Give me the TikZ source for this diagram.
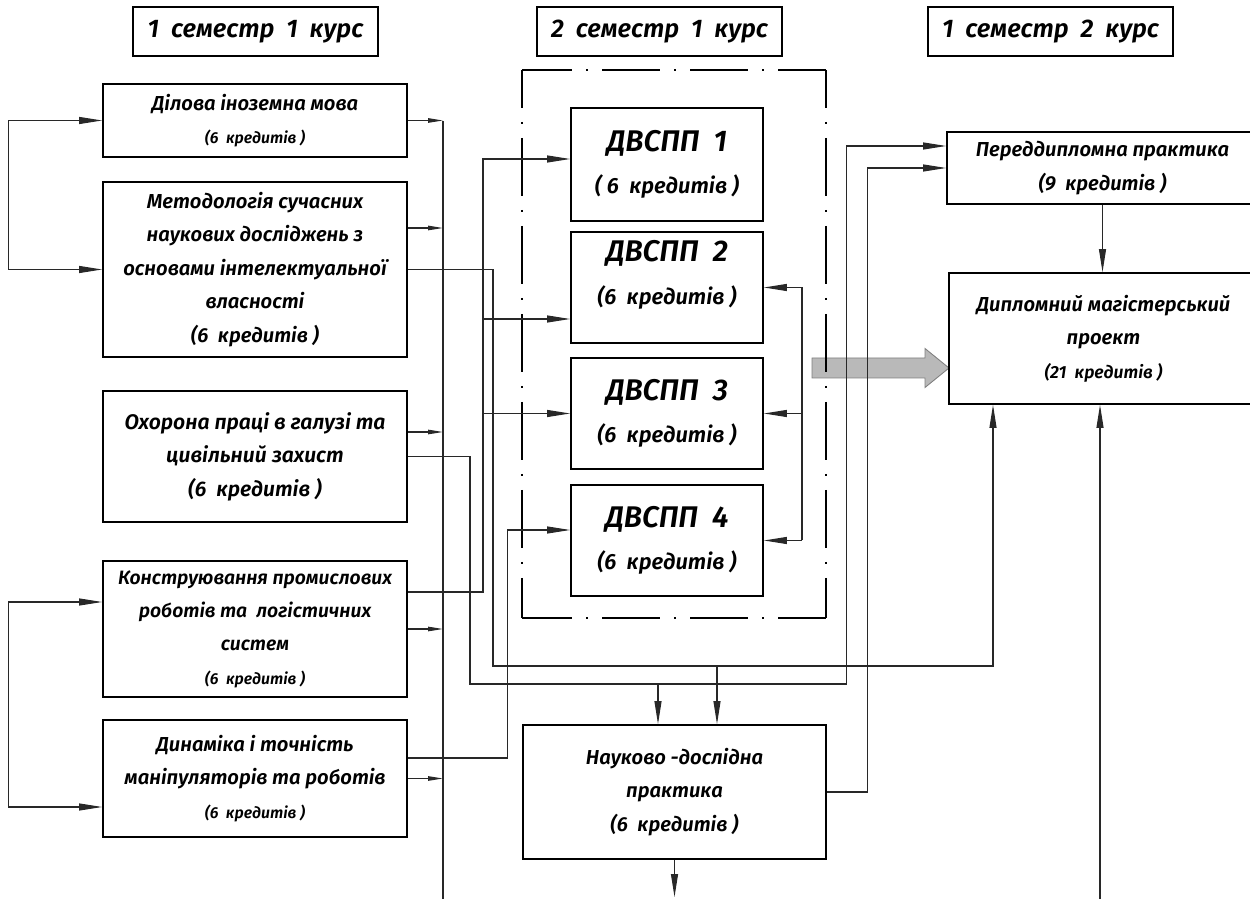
\documentclass[tikz,border=0pt]{standalone}
\usepackage{fontspec}
\setmainfont{Fira Sans}[BoldFont={* SemiBold}, BoldItalicFont={* SemiBold Italic}]
\usetikzlibrary{arrows.meta}
\definecolor{linkgray}{RGB}{40,40,40}
\definecolor{bargray}{RGB}{185,185,185}
\newcommand{\cred}[1]{{\fontsize{9}{14}\selectfont(#1~~кредитів )}}

\begin{document}
\begin{tikzpicture}[
  >={Triangle[length=4.6mm,width=1.4mm]},
  course/.style={draw, line width=1pt, minimum width=4.9cm, minimum height=0.98cm,
    inner sep=0pt, font=\fontsize{14.5}{18}\selectfont\bfseries\itshape},
  subj/.style={draw, line width=1pt, align=center, inner sep=0pt,
    font=\fontsize{11.5}{19}\selectfont\bfseries\itshape},
  leftbox/.style={subj, minimum width=6.08cm},
  dvspp/.style={subj, minimum width=3.84cm, minimum height=2.22cm,
    font=\fontsize{17}{24}\selectfont\bfseries\itshape},
  link/.style={linkgray, line width=0.6pt},
  bustip/.style={-{Triangle[length=3mm,width=0.9mm]}},
  dvframe/.style={line width=1.1pt, dash pattern=on 11.6mm off 2.8mm on 0.4mm off 2.8mm},
]
  \clip (0,0) rectangle (25,17.98);
  %--- semesters ---------------------------------------------------------------
  \node[course] (h1) at (5.11,17.35) {1~~семестр~~1~~курс};
  \node[course] (h2) at (13.19,17.35) {2~~семестр~~1~~курс};
  \node[course] (h3) at (21.01,17.35) {1~~семестр~~2~~курс};
  %--- first semester ------------------------------------------------------------
  \node[leftbox, minimum height=1.46cm] (b1) at (5.10,15.57)
    {Ділова іноземна мова\\\cred{6}};
  \node[leftbox, minimum height=3.50cm] (b2) at (5.10,12.59)
    {Методологія сучасних\\наукових досліджень з\\основами інтелектуальної\\власності\\(6~~кредитів )};
  \node[leftbox, minimum height=2.62cm, font=\fontsize{12}{19}\selectfont\bfseries\itshape] (b3)
    at (5.10,8.85) {Охорона праці в галузі та\\цивільний захист\\(6~~кредитів )};
  \node[leftbox, minimum height=2.72cm, font=\fontsize{11}{19}\selectfont\bfseries\itshape] (b4)
    at (5.10,5.40) {Конструювання промислових\\роботів та~~логістичних\\систем\\\cred{6}};
  \node[leftbox, minimum height=2.34cm] (b5) at (5.10,2.41)
    {Динаміка і точність\\маніпуляторів та роботів\\\cred{6}};
  %--- second semester -----------------------------------------------------------
  \fill[bargray] (16.24,10.42) -- (18.50,10.42) -- (18.50,10.23) -- (18.98,10.62)
    -- (18.50,11.01) -- (18.50,10.82) -- (16.24,10.82) -- cycle;
  \draw[gray, line width=0.5pt] (16.24,10.42) -- (18.50,10.42) -- (18.50,10.23) -- (18.98,10.62)
    -- (18.50,11.01) -- (18.50,10.82) -- (16.24,10.82) -- cycle;
  % elective frame, each side from its own corner
  \coordinate (frtl) at (10.44,16.58);
  \coordinate (frtr) at (16.52,16.58);
  \coordinate (frbl) at (10.44,5.62);
  \coordinate (frbr) at (16.52,5.62);
  \draw[dvframe, dash phase=1.6mm] (frtl) -- (frtr);
  \draw[dvframe, dash phase=1.6mm] (frbl) -- (frbr);
  \draw[dvframe, dash phase=4mm] (frtl) -- (frbl);
  \draw[dvframe, dash phase=4mm] (frtr) -- (frbr);
  \node[dvspp, minimum height=2.26cm] (dv1) at (13.34,14.69)
    {ДВСПП~~1\\{\fontsize{12.5}{24}\selectfont( 6~~кредитів )}};
  \node[dvspp, text depth=0.6cm] (dv2) at (13.34,12.23)
    {ДВСПП~~2\\{\fontsize{12.5}{24}\selectfont(6~~кредитів )}};
  \node[dvspp] (dv3) at (13.34,9.71)
    {ДВСПП~~3\\{\fontsize{12.5}{24}\selectfont(6~~кредитів )}};
  \node[dvspp] (dv4) at (13.34,7.17)
    {ДВСПП~~4\\{\fontsize{12.5}{24}\selectfont(6~~кредитів )}};
  \node[subj, minimum width=6.06cm, minimum height=2.68cm] (nauk) at (13.49,2.14)
    {Науково -дослідна\\практика\\(6~~кредитів )};
  %--- third semester ------------------------------------------------------------
  \node[subj, minimum width=6.22cm, minimum height=1.44cm] (pered) at (22.05,14.62)
    {Переддипломна практика\\(9~~кредитів )};
  \node[subj, minimum width=6.18cm, minimum height=2.62cm] (dipl) at (22.07,11.21)
    {Дипломний магістерський\\проект\\{\fontsize{10}{14}\selectfont(21~~кредитів )}};
  %--- connectors ----------------------------------------------------------------
  \coordinate (bustop) at (8.86,15.56);
  \coordinate (busend) at (8.86,0);
  \coordinate (j2) at (9.86,4.66);
  \coordinate (j3) at (9.40,4.30);
  \coordinate (j4) at (9.66,0);
  \coordinate (feed) at (16.04,0);
  \coordinate (dbot) at (22.0,0);
  \coordinate (nout) at (13.49,0.04);
  % loops on the left
  \draw[link, <->] (b1.west) -- ++(-1.88,0) |- (b2.west);
  \draw[link, <->] ([yshift=0.54cm]b4.west) -- ++(-1.88,0) |- ([yshift=-0.57cm]b5.west);
  % common bus
  \draw[link] (bustop) -- (busend);
  \foreach \n/\dy in {b1/0, b2/0.83, b3/0.49, b4/0, b5/0}
    \draw[link, bustip] ([yshift=\dy cm]\n.east) -- ([yshift=\dy cm]\n.east -| bustop);
  % into the elective blocks
  \draw[link, ->] ([yshift=0.74cm]b4.east) -| ([yshift=0.11cm]dv1.west -| j4)
    -- ([yshift=0.11cm]dv1.west);
  \draw[link, ->] ([yshift=-0.63cm]dv2.west -| j4) -- ([yshift=-0.63cm]dv2.west);
  \draw[link, ->] (dv3.west -| j4) -- (dv3.west);
  \draw[link, ->] ([yshift=0.41cm]b5.east) -| ([xshift=-1.26cm, yshift=0.21cm]dv4.west)
    -- ([yshift=0.21cm]dv4.west);
  \draw[link] (dv2.east -| feed) -- (dv4.east -| feed);
  \foreach \n in {dv2,dv3,dv4}
    \draw[link, ->] (\n.east -| feed) -- (\n.east);
  % practice and project
  \draw[link, ->] (b2.east) -| (j2) -| ([xshift=-2.21cm]dipl.south);
  \draw[link, ->] ([xshift=0.85cm]nauk.north |- j2) -- ([xshift=0.85cm]nauk.north);
  \draw[link, ->] (b3.east) -| (j3) -| ([xshift=-2.0cm, yshift=0.44cm]pered.west)
    -- ([yshift=0.44cm]pered.west);
  \draw[link, ->] ([xshift=-0.33cm]nauk.north |- j3) -- ([xshift=-0.33cm]nauk.north);
  \draw[link, ->] (nauk.east) -| ([xshift=-1.58cm]pered.west) -- (pered.west);
  \draw[link, ->] (nauk.south) -- (nout);
  \draw[link, ->] (pered.south) -- (pered.south |- dipl.north);
  \draw[link, ->] (dbot) -- (dbot |- dipl.south);
\end{tikzpicture}
\end{document}
